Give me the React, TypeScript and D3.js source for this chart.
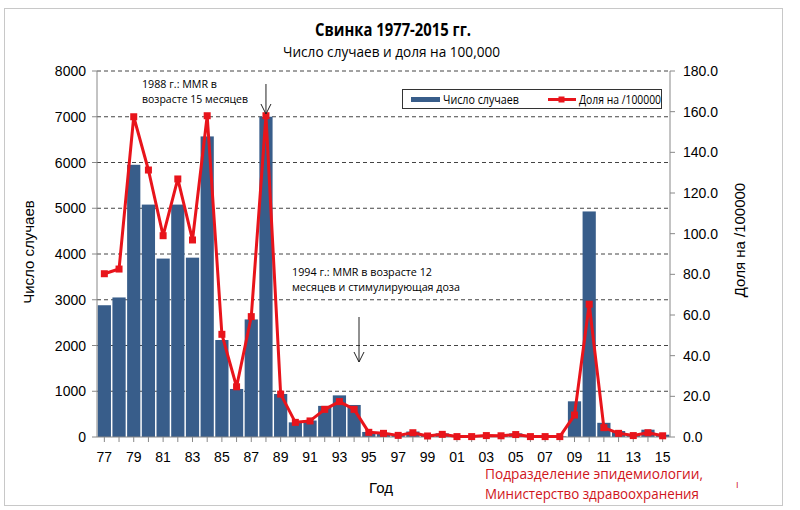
import React from "react";
import * as d3 from "d3";

const years = ["77","78","79","80","81","82","83","84","85","86","87","88","89","90","91","92","93","94","95","96","97","98","99","00","01","02","03","04","05","06","07","08","09","10","11","12","13","14","15"];
const cases = [2880,3050,5950,5080,3900,5080,3920,6570,2120,1050,2570,7000,940,320,360,680,910,700,110,90,40,120,30,80,15,15,45,40,80,15,15,15,780,4930,310,130,50,160,50];
const rates = [80.3,82.6,157.5,131.3,99,126.9,96.9,158,50.5,24.7,59.2,158,21.1,7.2,7.9,13.6,17.4,13.6,2.3,1.8,0.8,2.1,0.5,1.3,0.2,0.2,0.7,0.6,1.2,0.2,0.2,0.2,10.8,65.3,4.6,1.8,0.7,2.1,0.6];
const leftTicks = [0,1000,2000,3000,4000,5000,6000,7000,8000];
const rightTicks = [0,20,40,60,80,100,120,140,160,180];

const BAR = "#385d8a";
const RED = "#e8141b";
const SANS = "'Liberation Sans', Arial, sans-serif";
const NARROW = "'Open Sans', sans-serif";

function T(props: any) {
  const { w, children, ...rest } = props;
  return (
    <text {...rest} textLength={w} lengthAdjust="spacingAndGlyphs" fontFamily={NARROW}>{children}</text>
  );
}

export default function App() {
  const L = 97, R = 670, TOP = 71, B = 437;
  const x = d3.scaleBand<string>().domain(years).range([L, R]).paddingInner(0.1).paddingOuter(0.05);
  const yL = d3.scaleLinear().domain([0, 8000]).range([B, TOP]);
  const yR = d3.scaleLinear().domain([0, 180]).range([B, TOP]);
  const cx = (y: string) => (x(y) as number) + x.bandwidth() / 2;
  const line = d3.line<number>().x((_, i) => cx(years[i])).y(d => yR(d));
  const a88 = cx("88");

  return (
    <svg width={800} height={510} style={{ position: "absolute", left: 0, top: 0, background: "#fff" }}>
      <rect x={4.5} y={8.5} width={778} height={497} fill="#fff" stroke="#c8c8c8" />
      <T x={315} y={36} w={156} fontWeight="bold" fontSize={18}>Свинка 1977-2015 гг.</T>
      <T x={283} y={57} w={217} fontSize={14}>Число случаев и доля на 100,000</T>

      {leftTicks.filter(t => t > 0).map(t => (
        <line key={"g" + t} x1={L} x2={R} y1={yL(t)} y2={yL(t)} stroke="#444" strokeDasharray="4,3" strokeWidth={1} />
      ))}

      {years.map((yy, i) => (
        <rect key={"b" + yy} x={x(yy)} y={yL(cases[i])} width={x.bandwidth()} height={B - yL(cases[i])} fill={BAR} />
      ))}

      <line x1={L} x2={L} y1={TOP} y2={B} stroke="#888" />
      <line x1={R} x2={R} y1={TOP} y2={B} stroke="#888" />
      <line x1={L} x2={R} y1={B} y2={B} stroke="#888" />
      {leftTicks.map(t => (
        <g key={"l" + t}>
          <line x1={L - 5} x2={L} y1={yL(t)} y2={yL(t)} stroke="#888" />
          <text x={L - 11} y={yL(t) + 5} textAnchor="end" fontFamily={SANS} fontSize={14}>{t}</text>
        </g>
      ))}
      {rightTicks.map(t => (
        <g key={"r" + t}>
          <line x1={R} x2={R + 5} y1={yR(t)} y2={yR(t)} stroke="#888" />
          <text x={R + 13} y={yR(t) + 5} fontFamily={SANS} fontSize={14}>{t.toFixed(1)}</text>
        </g>
      ))}
      {years.map((yy, i) => (
        <g key={"x" + yy}>
          <line x1={cx(yy)} x2={cx(yy)} y1={B} y2={B + 5} stroke="#888" />
          {i % 2 === 0 && (
            <text x={cx(yy)} y={B + 25} textAnchor="middle" fontFamily={SANS} fontSize={14}>{yy}</text>
          )}
        </g>
      ))}

      <path d={line(rates) || ""} fill="none" stroke={RED} strokeWidth={3} strokeLinejoin="round" />
      {years.map((yy, i) => (
        <rect key={"m" + yy} x={cx(yy) - 3.5} y={yR(rates[i]) - 3.5} width={7} height={7} fill={RED} />
      ))}

      <text transform="translate(34,252) rotate(-90)" textAnchor="middle" fontFamily={SANS} fontSize={15}>Число случаев</text>
      <text transform="translate(745,240) rotate(-90)" textAnchor="middle" fontFamily={SANS} fontSize={15}>Доля на  /100000</text>
      <text x={381} y={493} textAnchor="middle" fontFamily={SANS} fontSize={15}>Год</text>

      <rect x={402.5} y={89.5} width={259} height={19} fill="#fff" stroke="#333" />
      <rect x={411} y={97} width={29} height={5} fill={BAR} />
      <T x={443} y={104} w={76} fontSize={12}>Число случаев</T>
      <line x1={548} x2={576} y1={99.5} y2={99.5} stroke={RED} strokeWidth={3} />
      <rect x={558.5} y={96.5} width={6} height={6} fill={RED} />
      <T x={579} y={104} w={82} fontSize={12}>Доля на /100000</T>

      <T x={142} y={88} w={75} fontSize={11}>1988 г.: MMR в</T>
      <T x={142} y={103} w={106} fontSize={11}>возрасте 15 месяцев</T>
      <line x1={a88} x2={a88} y1={84} y2={114} stroke="#222" />
      <path d={`M${a88 - 5},104 L${a88},114 L${a88 + 5},104`} fill="none" stroke="#222" />

      <T x={292} y={276} w={140} fontSize={11}>1994 г.: MMR в возрасте 12</T>
      <T x={292} y={291} w={168} fontSize={11}>месяцев и стимулирующая доза</T>
      <line x1={359} x2={359} y1={317} y2={362} stroke="#222" />
      <path d="M354,352 L359,362 L364,352" fill="none" stroke="#222" />

      <T x={485} y={479} w={218} fontSize={14} fill="#d0141b">Подразделение эпидемиологии,</T>
      <T x={485} y={499} w={214} fontSize={14} fill="#d0141b">Министерство здравоохранения</T>
      <text x={736} y={488} fontFamily={NARROW} fontSize={10} fill="#d0141b">ı</text>
    </svg>
  );
}
